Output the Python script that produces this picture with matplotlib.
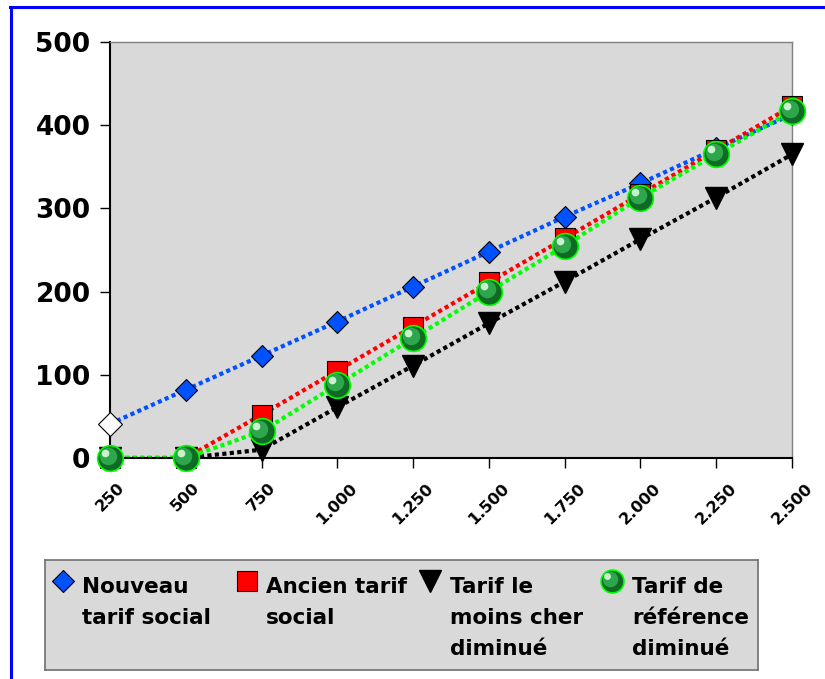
import matplotlib
matplotlib.use("Agg")
import matplotlib.pyplot as plt
from matplotlib.lines import Line2D
from matplotlib.transforms import offset_copy

OUTPUT_FILE = "out.png"
W, H = 825, 679

# Yearly consumption (kWh) and cost per tariff
consumption = [250, 500, 750, 1000, 1250, 1500, 1750, 2000, 2250, 2500]
tick_labels = ["250", "500", "750", "1.000", "1.250", "1.500",
               "1.750", "2.000", "2.250", "2.500"]
nouveau_tarif_social = [41, 82, 123, 164, 206, 248, 290, 330, 372, 413]
ancien_tarif_social = [0, 0, 52, 105, 158, 211, 264, 317, 370, 423]
tarif_moins_cher = [0, 0, 10, 61, 111, 162, 212, 263, 313, 365]
tarif_reference = [0, 0, 32, 88, 144, 200, 255, 313, 365, 417]
series_labels = ["Nouveau\ntarif social", "Ancien tarif\nsocial",
                 "Tarif le\nmoins cher\ndiminué", "Tarif de\nréférence\ndiminué"]

BLUE = "#0052ff"
RED = "#ff0000"
GREEN = "#00ff00"
PANEL = "#d9d9d9"
DOTTED = (0, (1, 0.8))


def draw_spheres(ax, fig, x, y, size, zorder=5):
    """Green shaded balls: dark base, lighter body, small highlight."""
    ax.plot(x, y, ls="none", marker="o", ms=size, mfc="#0f6a24", mec=GREEN,
            mew=1.2, clip_on=False, zorder=zorder)
    body = offset_copy(ax.transData, fig=fig, x=-size * 0.09, y=size * 0.09, units="points")
    ax.plot(x, y, ls="none", marker="o", ms=size * 0.68, mfc="#2ea64b", mec="none",
            transform=body, clip_on=False, zorder=zorder)
    shine = offset_copy(ax.transData, fig=fig, x=-size * 0.2, y=size * 0.2, units="points")
    ax.plot(x, y, ls="none", marker="o", ms=size * 0.3, mfc="#c8f2cd", mec="none",
            transform=shine, clip_on=False, zorder=zorder)


def plot_chart():
    fig = plt.figure(figsize=(W / 100, H / 100), dpi=100)
    fig.patch.set_facecolor("white")

    ax = fig.add_axes([110 / W, 1 - 458 / H, 682 / W, 416 / H])
    ax.set_facecolor(PANEL)

    # lines first, markers on top
    for values, color in [(nouveau_tarif_social, BLUE), (ancien_tarif_social, RED),
                          (tarif_moins_cher, "black"), (tarif_reference, GREEN)]:
        ax.plot(consumption, values, color=color, lw=3, ls=DOTTED, zorder=2)

    ax.plot(consumption[1:], nouveau_tarif_social[1:], ls="none", marker="D", ms=11.5,
            mfc=BLUE, mec="black", mew=0.8, clip_on=False, zorder=3)
    ax.plot(consumption[:1], nouveau_tarif_social[:1], ls="none", marker="D", ms=12,
            mfc="white", mec="black", mew=0.8, clip_on=False, zorder=3)
    ax.plot(consumption, ancien_tarif_social, ls="none", marker="s", ms=14.5,
            mfc=RED, mec="black", mew=0.8, clip_on=False, zorder=4)
    ax.plot(consumption, tarif_moins_cher, ls="none", marker="v", ms=16.5,
            mfc="black", mec="black", clip_on=False, zorder=4)
    draw_spheres(ax, fig, consumption, tarif_reference, 18.5)

    ax.set_xlim(consumption[0], consumption[-1])
    ax.set_ylim(0, 500)
    ax.set_xticks(consumption)
    ax.set_xticklabels(tick_labels, rotation=45, ha="center", fontsize=11.5, fontweight="bold")
    ax.set_yticks(range(0, 501, 100))
    ax.set_yticklabels([str(v) for v in range(0, 501, 100)], fontsize=19, fontweight="bold")
    ax.tick_params(axis="x", direction="out", length=7, width=1, pad=9)
    ax.tick_params(axis="y", direction="out", length=7, width=1, pad=7)

    for side in ["left", "bottom"]:
        ax.spines[side].set_color("black")
        ax.spines[side].set_linewidth(1.5)
    for side in ["top", "right"]:
        ax.spines[side].set_color("#808080")
        ax.spines[side].set_linewidth(1)

    # legend panel, laid out in pixel units
    leg = fig.add_axes([45 / W, 1 - 670 / H, 713 / W, 110 / H])
    leg.set_facecolor(PANEL)
    leg.set_xlim(0, 713)
    leg.set_ylim(110, 0)
    leg.set_xticks([])
    leg.set_yticks([])
    for spine in leg.spines.values():
        spine.set_color("#707070")
        spine.set_linewidth(1.2)

    marker_x = [18, 202, 385, 567]
    text_x = [37, 221, 405, 587]
    my = 21
    leg.plot([marker_x[0]], [my], ls="none", marker="D", ms=11, mfc=BLUE, mec="black", mew=0.8)
    leg.plot([marker_x[1]], [my], ls="none", marker="s", ms=14.5, mfc=RED, mec="black", mew=0.8)
    leg.plot([marker_x[2]], [my], ls="none", marker="v", ms=16.5, mfc="black", mec="black")
    draw_spheres(leg, fig, [marker_x[3]], [my], 16.5)

    for tx, label in zip(text_x, series_labels):
        for i, line in enumerate(label.split("\n")):
            leg.text(tx, 33 + i * 31, line, fontsize=15.5, fontweight="bold",
                     va="baseline", ha="left")

    # blue frame along the left and top edges
    fig.add_artist(Line2D([10.5 / W, 10.5 / W], [0, 1 - 7 / H], color="blue", lw=2.2,
                          transform=fig.transFigure))
    fig.add_artist(Line2D([10 / W, 1], [1 - 7 / H, 1 - 7 / H], color="blue", lw=2.2,
                          transform=fig.transFigure))

    fig.savefig(OUTPUT_FILE, dpi=100)
    plt.close(fig)


if __name__ == "__main__":
    plot_chart()
